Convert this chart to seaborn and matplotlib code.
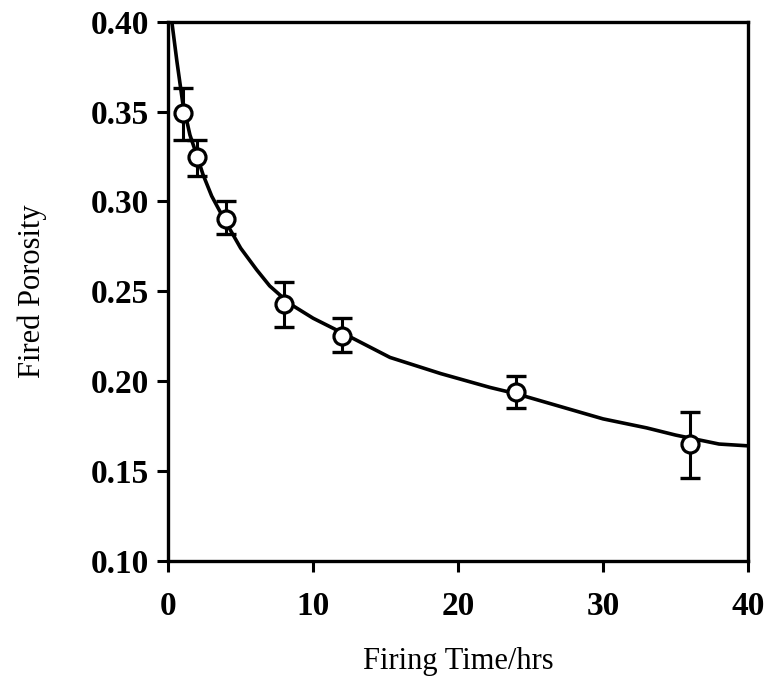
import matplotlib
matplotlib.use("Agg")
import matplotlib.pyplot as plt
import seaborn as sns
import pandas as pd

# measured data
time_hrs = [1, 2, 4, 8, 12, 24, 36]
porosity = [0.349, 0.325, 0.290, 0.243, 0.225, 0.194, 0.165]
err_low = [0.334, 0.314, 0.282, 0.230, 0.216, 0.185, 0.146]
err_high = [0.363, 0.334, 0.300, 0.255, 0.235, 0.203, 0.183]

# fitted curve
curve_x = [0.25, 0.6, 1, 1.5, 2, 2.4, 3, 3.8, 5, 6.1, 7, 8.4, 10, 12.1,
           15.3, 18.8, 22.2, 24, 27, 30, 33, 35, 38, 40]
curve_y = [0.400, 0.378, 0.355, 0.337, 0.325, 0.315, 0.303, 0.291, 0.274,
           0.262, 0.253, 0.243, 0.235, 0.2265, 0.2132, 0.2042, 0.1965,
           0.193, 0.186, 0.179, 0.174, 0.170, 0.165, 0.164]

x_ticks = [0, 10, 20, 30, 40]
y_ticks = [0.10, 0.15, 0.20, 0.25, 0.30, 0.35, 0.40]

sns.set_style("white")
plt.rcParams['font.family'] = ['Liberation Serif', 'DejaVu Serif']
plt.rcParams['text.color'] = 'black'
plt.rcParams['axes.labelcolor'] = 'black'
plt.rcParams['xtick.color'] = 'black'
plt.rcParams['ytick.color'] = 'black'

fig = plt.figure(figsize=(7.68, 6.79), dpi=100)
ax = fig.add_axes([0.219, 0.174, 0.755, 0.794])

df_pts = pd.DataFrame({"t": time_hrs, "p": porosity})
df_curve = pd.DataFrame({"t": curve_x, "p": curve_y})

sns.lineplot(data=df_curve, x="t", y="p", ax=ax, color="black", linewidth=2.6,
             zorder=2)
yerr = [[p - lo for p, lo in zip(porosity, err_low)],
        [hi - p for p, hi in zip(porosity, err_high)]]
ax.errorbar(time_hrs, porosity, yerr=yerr, fmt="none", ecolor="black",
            elinewidth=2.2, capsize=7, capthick=2.4, zorder=3)
sns.scatterplot(data=df_pts, x="t", y="p", ax=ax, marker="o", s=150,
                facecolor="white", edgecolor="black", linewidth=2.3, zorder=4)

ax.set_xlim(0, 40)
ax.set_ylim(0.10, 0.40)
ax.set_xticks(x_ticks)
ax.set_xticklabels([str(v) for v in x_ticks])
ax.set_yticks(y_ticks)
ax.set_yticklabels([f"{v:.2f}" for v in y_ticks])

for s in ax.spines.values():
    s.set_linewidth(2.4)
    s.set_color("black")

ax.tick_params(axis="both", which="major", direction="out", length=8, width=2.2,
               labelsize=24, labelcolor="black", color="black")
ax.tick_params(axis="y", pad=6)
ax.tick_params(axis="x", pad=14)
ax.tick_params(top=False, right=False, left=True, bottom=True)
for lab in ax.get_xticklabels() + ax.get_yticklabels():
    lab.set_fontweight("bold")

ax.set_xlabel("Firing Time/hrs", fontsize=22, labelpad=18, color="black")
ax.set_ylabel("Fired Porosity", fontsize=22, labelpad=31, color="black")

fig.savefig("out.png", dpi=100)
